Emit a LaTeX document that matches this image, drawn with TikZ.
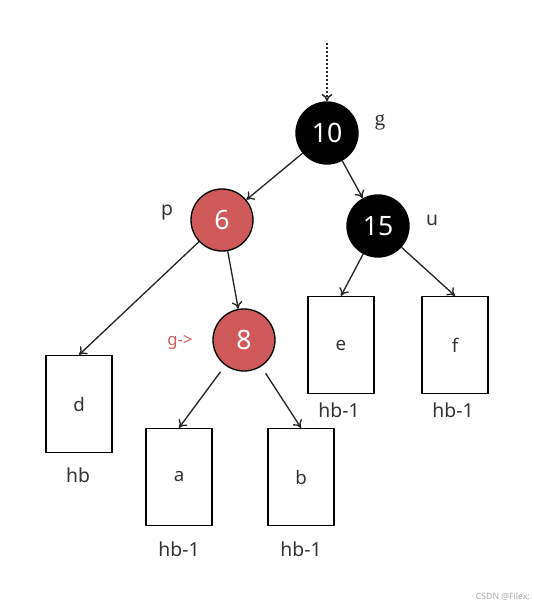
\documentclass[tikz,border=0pt]{standalone}
\usepackage{fontspec}
\setmainfont{Noto Sans}
\newfontfamily\serifg{Liberation Serif}
\usetikzlibrary{arrows.meta}
\definecolor{redn}{HTML}{D05A5A}
\definecolor{txt}{HTML}{333333}
\tikzset{
  rb/.style={circle,draw=black,line width=1pt,minimum size=62pt*0.75,inner sep=0pt,text=white,font=\fontsize{20}{20}\selectfont},
  blk/.style={rb,fill=black},
  red/.style={rb,fill=redn},
  leaf/.style={draw=black,line width=1pt,minimum width=66*0.75pt,minimum height=97*0.75pt,inner sep=0pt,text=txt,font=\fontsize{14}{14}\selectfont},
  lbl/.style={text=txt,font=\fontsize{14.5}{14.5}\selectfont,inner sep=0pt},
  edge/.style={draw=black!85,line width=1pt,-{To[length=5.5pt,width=8pt]}},
}
\begin{document}
\begin{tikzpicture}[x=0.75pt,y=-0.75pt]
\useasboundingbox (0,0) rectangle (534,609);
\node[blk] (n10) at (327,133) {10};
\node[red] (n6) at (222,220) {6};
\node[blk] (n15) at (378,226) {15};
\node[red] (n8) at (244,340) {8};
\node[leaf] (d) at (79,404) {d};
\node[leaf] (a) at (179,477) {a};
\node[leaf] (b) at (301,477) {b};
\node[leaf] (e) at (341,345) {e};
\node[leaf] (f) at (455,345) {f};
\node[lbl] (lg) at (380,122) {\serifg\fontsize{16}{16}\selectfont g};
\node[lbl] (lp) at (167,213) {p};
\node[lbl] (lu) at (432,220) {u};
\node[lbl,text=redn,font=\fontsize{12.5}{12.5}\selectfont] (lg2) at (180,342) {g->};
\node[lbl] (hd) at (78,475) {hb};
\node[lbl] (ha) at (179,549) {hb-1};
\node[lbl] (hb) at (301,549) {hb-1};
\node[lbl] (he) at (339,410) {hb-1};
\node[lbl] (hf) at (453,410) {hb-1};
\coordinate (top) at (327,43);
\draw[edge,dash pattern=on 1.5pt off 1.5pt,line width=1.1pt] (top) -- (n10);
\draw[edge] (n10) -- (n6);
\draw[edge] (n10) -- (n15);
\draw[edge] (n6) -- (d.north);
\draw[edge] (n6) -- (n8);
\draw[edge] (n15) -- (e.north);
\draw[edge] (n15) -- (f.north);
\draw[edge,shorten <=6pt] (n8) -- (a.north);
\draw[edge,shorten <=6pt] (n8) -- (b.north);
\node[text=black!35,font=\fontsize{6.5}{6.5}\selectfont,anchor=east,inner sep=0pt] (wm) at (530,597) {CSDN @Filex;};
\end{tikzpicture}
\end{document}
